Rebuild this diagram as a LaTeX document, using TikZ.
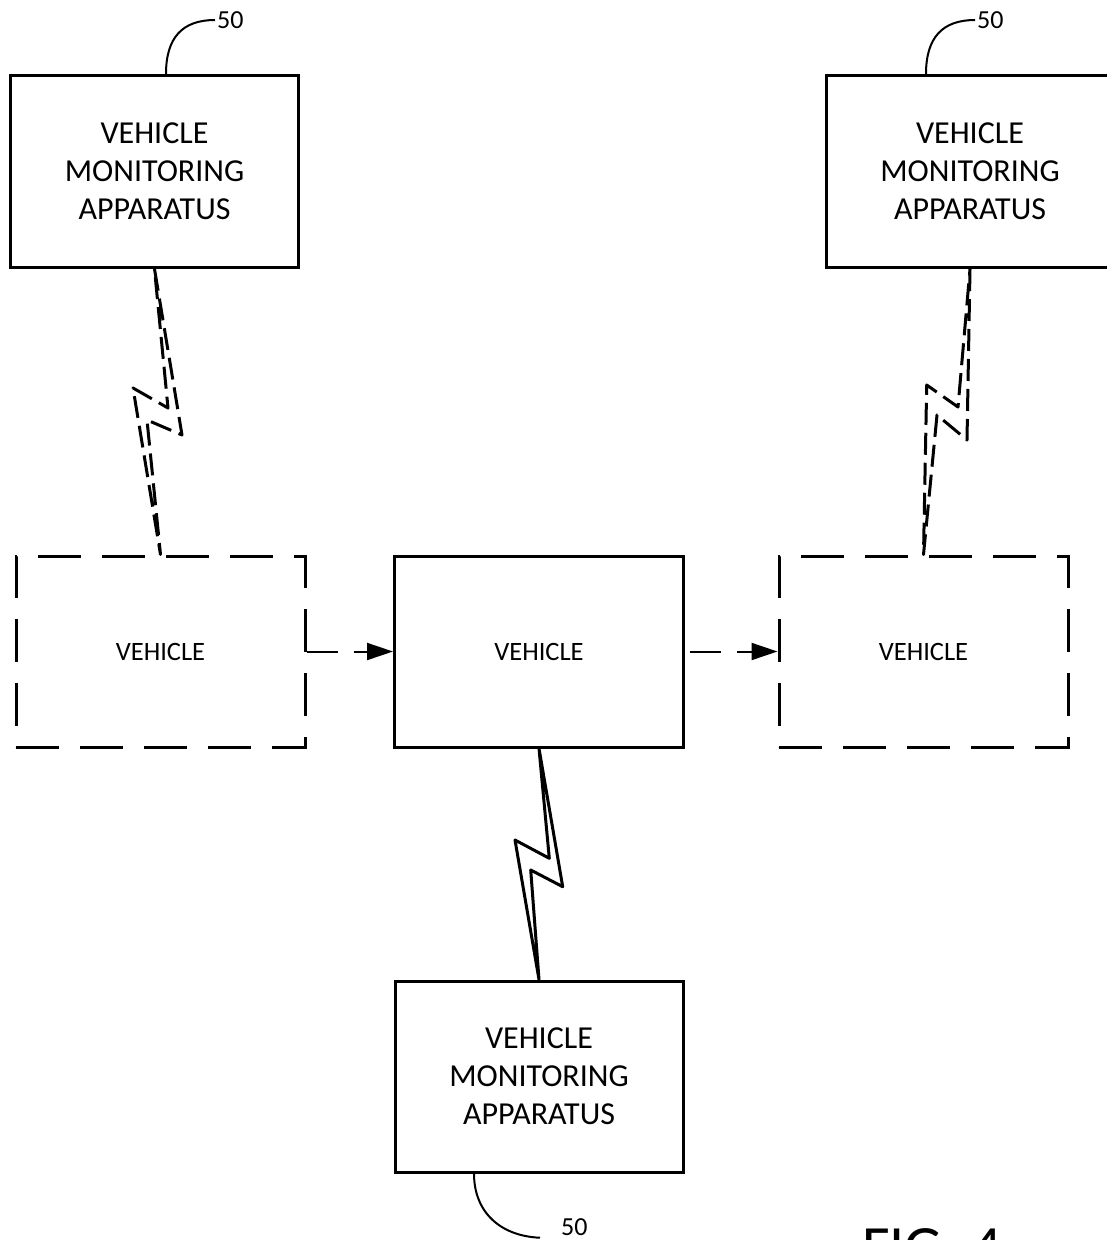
\documentclass[tikz,border=0pt]{standalone}
\usepackage{fontspec}
\setmainfont{Carlito}
\usetikzlibrary{arrows.meta}

\begin{document}
\begin{tikzpicture}[x=1pt,y=-1pt]
\tikzset{
  unit/.style={draw, line width=3pt, minimum width=288pt, minimum height=192pt, inner sep=0pt, align=center, font=\fontsize{32}{38}\selectfont},
  car/.style={draw, line width=3pt, minimum width=289pt, minimum height=191pt, inner sep=0pt, font=\fontsize{26.5}{30}\selectfont},
  ghost/.style={dash pattern=on 43pt off 21pt},
  link/.style={line width=2pt, dash pattern=on 31pt off 16pt, -{Triangle[length=26pt,width=17pt]}},
  bolt/.style={line width=3pt, line join=round},
  faint/.style={dash pattern=on 22pt off 8pt},
  tag/.style={font=\fontsize{26}{26}\selectfont, inner sep=2pt, anchor=west},
  lead/.style={line width=2pt}
}
\useasboundingbox (0,0) rectangle (1107,1240);

\node[unit] (vmaL) at (154.5,171.5) {VEHICLE\\MONITORING\\APPARATUS};
\node[unit] (vmaR) at (970,171.5) {VEHICLE\\MONITORING\\APPARATUS};
\node[unit, minimum height=191pt] (vmaB) at (539,1076.5) {VEHICLE\\MONITORING\\APPARATUS};

\node[car, ghost] (vehL) at (160.5,651.5) {VEHICLE};
\node[car] (vehC) at (539,651.5) {VEHICLE};
\node[car, ghost] (vehR) at (923.5,651.5) {VEHICLE};

\draw[link] (vehL.east) -- (vehC.west);
\draw[link] ([xshift=5pt]vehC.east) -- (vehR.west);

\coordinate (L1) at (182,435);
\coordinate (L2) at (147,420);
\coordinate (L3) at (133,388);
\coordinate (L4) at (168,408);
\draw[bolt, faint] (vmaL.south) -- (L1) -- (L2) -- (vehL.north) -- (L3) -- (L4) -- cycle;

\coordinate (R1) at (967,440);
\coordinate (R2) at (937,415);
\coordinate (R3) at (926.7,385);
\coordinate (R4) at (958,407);
\draw[bolt, faint] (vmaR.south) -- (R1) -- (R2) -- (vehR.north) -- (R3) -- (R4) -- cycle;

\coordinate (C1) at (562.7,886.7);
\coordinate (C2) at (530.7,870);
\coordinate (C3) at (515,840);
\coordinate (C4) at (549.3,858.3);
\draw[bolt] (vehC.south) -- (C1) -- (C2) -- (vmaB.north) -- (C3) -- (C4) -- cycle;

\node[tag] (n1) at (215,20) {50};
\node[tag] (n2) at (975,20) {50};
\node[tag] (n3) at (559,1227) {50};

\draw[lead] ([xshift=11.5pt]vmaL.north) .. controls (166,38) and (182,20) .. (n1.west);
\draw[lead] ([xshift=-44pt]vmaR.north) .. controls (926,38) and (942,20) .. (n2.west);
\draw[lead] ([xshift=-65pt]vmaB.south) .. controls (474,1212) and (500,1236) .. ([xshift=-19pt]n3.south west);

\node[font=\fontsize{60}{60}\selectfont, anchor=base west, inner sep=0pt] (fig) at (862,1267) {FIG. 4};
\end{tikzpicture}
\end{document}
